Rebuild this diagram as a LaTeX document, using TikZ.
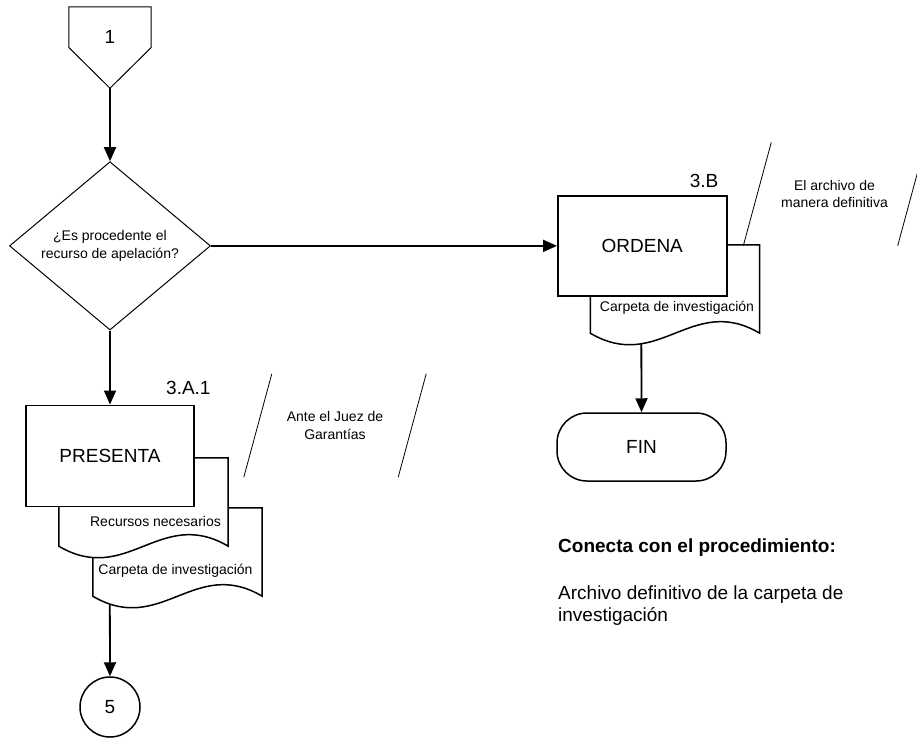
\documentclass[tikz,border=0pt]{standalone}
\usepackage{fontspec}
\setmainfont{Liberation Sans}
\usetikzlibrary{positioning,arrows.meta,shapes.geometric,backgrounds}

\newcommand{\grande}{\fontsize{19}{22.5}\selectfont}
\newcommand{\chico}{\fontsize{14}{17.5}\selectfont}
% hoja con borde inferior ondulado, texto bajo el centro
\newcommand{\hoja}[3]{%
  \draw[borde, fill=white] (#1.south west) -- (#1.north west) -- (#1.north east)
    -- (#1.south east) .. controls ([xshift=-67.6pt, yshift=40pt]#1.south east)
    and ([xshift=-101.4pt, yshift=-40pt]#1.south east) .. (#1.south west) -- cycle;
  \node[font=\chico] (#1-txt) at ([xshift=#3, yshift=-19pt]#1.center) {#2};}

\begin{document}
\begin{tikzpicture}[x=1pt, y=-1pt,
  borde/.style={line width=1.5pt},
  caja/.style={draw, borde, fill=white, minimum width=169pt, minimum height=100pt, font=\grande},
  hojabase/.style={minimum width=169pt, minimum height=88pt, inner sep=0pt},
  rombo/.style={draw, diamond, line width=1pt, minimum width=201pt, minimum height=155pt,
                inner sep=0pt, align=center, font=\chico},
  conector/.style={minimum width=82pt, minimum height=81pt, inner sep=0pt},
  circulo/.style={draw, circle, borde, minimum size=60pt, inner sep=0pt, font=\grande},
  terminador/.style={draw, borde, rounded corners=30pt, minimum width=169pt, minimum height=68pt, font=\grande},
  nota/.style={minimum width=154pt, minimum height=103pt, align=center, font=\chico},
  diagonal/.style={line width=0.8pt},
  paso/.style={font=\grande, inner sep=0pt},
  flecha/.style={-{Triangle[length=14pt, width=12pt]}, line width=1.8pt}
]
  \useasboundingbox (0,0) rectangle (917,739);

  % entrada
  \node[conector, label={[name=uno, font=\grande, yshift=10.5pt]center:1}] (con1) at (110,47.5) {};
  \draw[line width=1pt] (con1.north west) -- (con1.north east) -- (con1.east)
    -- (con1.south) -- (con1.west) -- cycle;
  \node[rombo, below=73pt of con1] (pregunta) {¿Es procedente el\\recurso de apelación?};

  % rama 3.A.1
  \node[hojabase] (carpeta1) at (177.5,552) {};
  \hoja{carpeta1}{Carpeta de investigación}{-2pt}
  \node[hojabase] (recursos) at (143.5,502) {};
  \hoja{recursos}{Recursos necesarios}{12pt}
  \node[caja, minimum width=168pt, minimum height=101pt, below=74pt of pregunta,
        label={[paso, anchor=south east, xshift=16pt, yshift=10pt]north east:3.A.1}] (presenta) {PRESENTA};
  \node[circulo] (cinco) at (110,707) {5};
  \node[nota] (juez) at (335,425.5) {Ante el Juez de\\Garantías};
  \draw[diagonal] ([xshift=14pt]juez.north west) -- ([xshift=-14pt]juez.south west);
  \draw[diagonal] ([xshift=14pt]juez.north east) -- ([xshift=-14pt]juez.south east);

  % rama 3.B
  \node[hojabase] (carpeta2) at (675,289) {};
  \hoja{carpeta2}{Carpeta de investigación}{2pt}
  \node[caja, right=346pt of pregunta,
        label={[paso, anchor=south east, xshift=-9pt, yshift=7pt]north east:3.B}] (ordena) {ORDENA};
  \node[terminador] (fin) at (641.5,447) {FIN};
  \node[nota] (archivo) at (834.5,194) {El archivo de\\manera definitiva};
  \draw[diagonal] ([xshift=14pt]archivo.north west) -- ([xshift=-14pt]archivo.south west);
  \draw[diagonal] ([xshift=14pt]archivo.north east) -- ([xshift=-14pt]archivo.south east);

  % procedimiento siguiente
  \node[font=\grande\bfseries, anchor=west, inner sep=0pt] (conecta) at (558,548) {Conecta con el procedimiento:};
  \node[font=\grande, anchor=west, align=left, inner sep=0pt] (destino) at (558,605.5)
       {Archivo definitivo de la carpeta de\\investigación};

  \begin{scope}[on background layer]
    \draw[flecha] (con1.south) -- (pregunta.north);
    \draw[flecha] (pregunta.south) -- (presenta.north);
    \draw[flecha] (pregunta.east) -- (ordena.west);
    \draw[flecha] ([xshift=17pt]carpeta1.south west) -- (cinco.north);
    \draw[flecha] ([xshift=51pt]carpeta2.south west) -- (fin.north);
  \end{scope}
\end{tikzpicture}
\end{document}
